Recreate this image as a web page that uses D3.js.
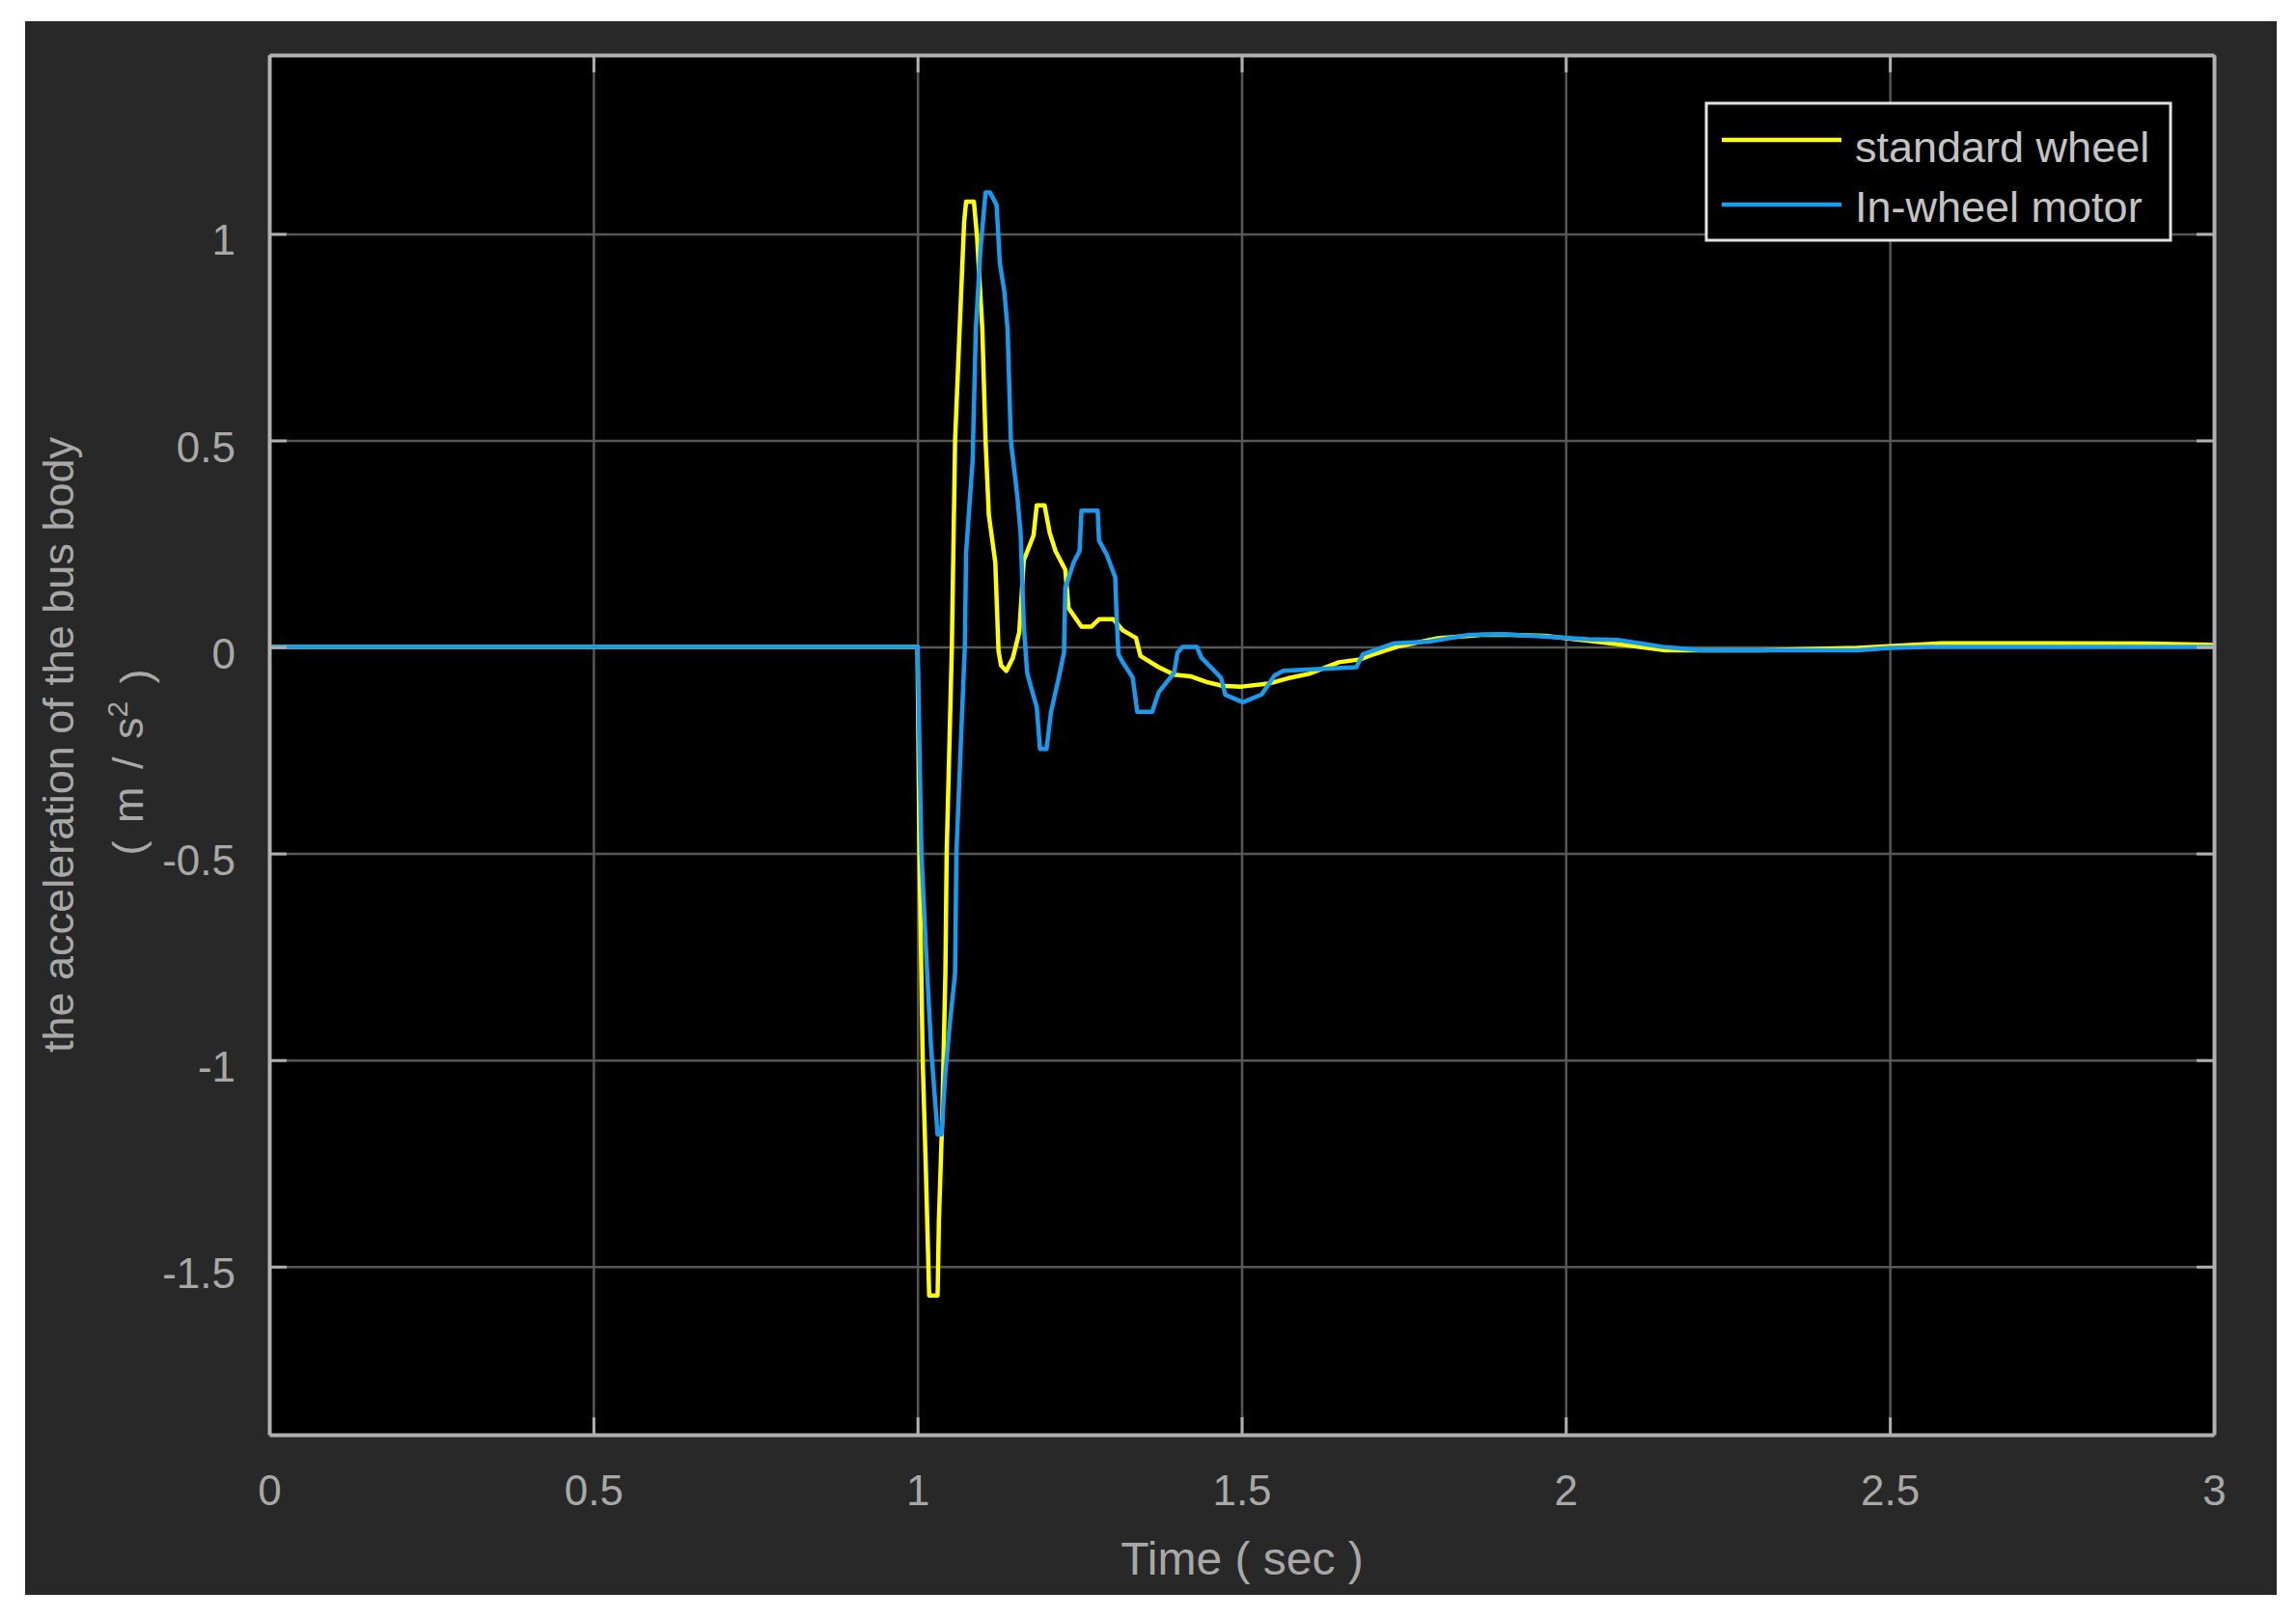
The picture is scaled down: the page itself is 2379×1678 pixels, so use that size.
<!DOCTYPE html>
<html>
<head>
<meta charset="utf-8">
<script src="https://cdn.jsdelivr.net/npm/d3@7"></script>
<style>
  body { margin: 0; background: #ffffff; }
  svg { display: block; }
</style>
</head>
<body>
<div id="chart"></div>
<script>
// series (time in sec, acceleration in m/s^2)
var stdTime = [0, 1.0, 1.003, 1.008, 1.013, 1.017, 1.018, 1.031, 1.033, 1.038,
  1.043, 1.045, 1.053, 1.058, 1.065, 1.072, 1.075, 1.087, 1.092, 1.100,
  1.105, 1.110, 1.120, 1.125, 1.129, 1.137, 1.147, 1.157, 1.164, 1.179,
  1.184, 1.196, 1.204, 1.213, 1.228, 1.233, 1.253, 1.268, 1.280, 1.302,
  1.317, 1.337, 1.344, 1.372, 1.396, 1.421, 1.446, 1.470, 1.500, 1.544,
  1.571, 1.604, 1.650, 1.683, 1.703, 1.743, 1.803, 1.869, 1.902, 1.968,
  2.034, 2.10, 2.154, 2.30, 2.45, 2.58, 2.75, 2.90, 3.0];
var stdAcc = [0, 0, -0.5, -1.0, -1.27, -1.51, -1.57, -1.57, -1.39, -1.15,
  -0.79, -0.5, 0, 0.5, 0.77, 1.03, 1.078, 1.078, 0.99, 0.77,
  0.5, 0.32, 0.205, -0.01, -0.045, -0.058, -0.027, 0.036, 0.21, 0.27,
  0.343, 0.343, 0.276, 0.232, 0.187, 0.094, 0.049, 0.049, 0.067, 0.067,
  0.04, 0.022, -0.022, -0.049, -0.067, -0.071, -0.085, -0.094, -0.096, -0.088,
  -0.076, -0.065, -0.037, -0.03, -0.018, 0.002, 0.021, 0.029, 0.030, 0.027,
  0.015, 0.003, -0.008, -0.008, -0.002, 0.009, 0.009, 0.008, 0.005];

var motorTime = [0, 1.0, 1.001, 1.006, 1.013, 1.021, 1.031, 1.037, 1.043, 1.050,
  1.058, 1.060, 1.068, 1.073, 1.075, 1.085, 1.090, 1.097, 1.105, 1.112,
  1.122, 1.127, 1.134, 1.139, 1.144, 1.154, 1.159, 1.164, 1.169, 1.171,
  1.184, 1.189, 1.199, 1.206, 1.218, 1.226, 1.228, 1.241, 1.250, 1.253,
  1.278, 1.280, 1.292, 1.305, 1.307, 1.310, 1.317, 1.332, 1.339, 1.362,
  1.372, 1.396, 1.401, 1.409, 1.431, 1.438, 1.468, 1.475, 1.502, 1.531,
  1.551, 1.564, 1.677, 1.687, 1.736, 1.789, 1.849, 1.902, 1.968, 2.034,
  2.08, 2.15, 2.21, 2.45, 2.5, 2.56, 3.0];
var motorAcc = [0, 0, -0.07, -0.5, -0.73, -0.97, -1.18, -1.18, -1.03, -0.91,
  -0.79, -0.5, -0.19, 0, 0.23, 0.45, 0.77, 0.96, 1.10, 1.10,
  1.07, 0.93, 0.86, 0.77, 0.5, 0.365, 0.276, 0.053, -0.06, -0.074,
  -0.146, -0.247, -0.247, -0.157, -0.074, -0.014, 0.143, 0.205, 0.232, 0.33,
  0.33, 0.258, 0.223, 0.169, 0.08, -0.018, -0.038, -0.074, -0.157, -0.157,
  -0.11, -0.062, -0.014, 0, 0, -0.026, -0.074, -0.116, -0.134, -0.115,
  -0.069, -0.058, -0.049, -0.018, 0.009, 0.013, 0.029, 0.031, 0.025, 0.019,
  0.017, 0, -0.008, -0.008, -0.002, 0, 0];

var seriesNames = ["standard wheel", "In-wheel motor"];
var seriesColors = ["#ffff00", "#169bf0"];
var xTicks = [0, 0.5, 1, 1.5, 2, 2.5, 3];
var yTicks = [-1.5, -1, -0.5, 0, 0.5, 1];

var W = 2379, H = 1678;
var margin = {left: 279, right: W - 2294, top: 57, bottom: H - 1487};
var width = W - margin.left - margin.right,
    height = H - margin.top - margin.bottom;

var font = "'Liberation Sans', Arial, Helvetica, sans-serif";
var axisColor = "#b0b0b0", gridColor = "#575757", textColor = "#a8a8a8";
var tickLen = 18;

var svg = d3.select("#chart").append("svg")
    .attr("width", W)
    .attr("height", H);

// dark figure background
svg.append("rect")
    .attr("x", 26).attr("y", 22)
    .attr("width", 2359 - 26).attr("height", 1653 - 22)
    .attr("fill", "#282828");

var g = svg.append("g")
    .attr("transform", "translate(" + margin.left + "," + margin.top + ")");

var x = d3.scaleLinear().domain([0, 3]).range([0, width]);
var y = d3.scaleLinear().domain([-1.907, 1.433]).range([height, 0]);

// axes background
g.append("rect")
    .attr("width", width).attr("height", height)
    .attr("fill", "#000000");

// grid
g.append("g")
    .attr("class", "grid")
    .call(d3.axisBottom(x).tickValues(xTicks).tickSize(height).tickFormat(""))
    .call(function(s) { s.select(".domain").remove(); })
    .selectAll("line").attr("stroke", gridColor).attr("stroke-width", 2.5);
g.append("g")
    .attr("class", "grid")
    .call(d3.axisLeft(y).tickValues(yTicks).tickSize(-width).tickFormat(""))
    .call(function(s) { s.select(".domain").remove(); })
    .selectAll("line").attr("stroke", gridColor).attr("stroke-width", 2.5);

// lines
svg.append("clipPath").attr("id", "plotclip")
    .append("rect").attr("width", width).attr("height", height);

var line = d3.line()
    .x(function(d) { return x(d[0]); })
    .y(function(d) { return y(d[1]); });

var series = [
  d3.zip(stdTime, stdAcc),
  d3.zip(motorTime, motorAcc)
];

g.append("g")
    .attr("clip-path", "url(#plotclip)")
    .selectAll("path")
    .data(series)
    .enter()
    .append("path")
    .attr("d", line)
    .attr("fill", "none")
    .attr("stroke", function(d, i) { return seriesColors[i]; })
    .attr("stroke-width", 4.5)
    .attr("stroke-linejoin", "round");

// axes with inward ticks
function styleAxis(sel) {
  sel.select(".domain").attr("stroke", axisColor).attr("stroke-width", 4);
  sel.selectAll(".tick line").attr("stroke", axisColor).attr("stroke-width", 3);
  sel.selectAll("text")
      .attr("fill", textColor)
      .style("font-family", font)
      .style("font-size", "44px");
}

g.append("g")
    .attr("transform", "translate(0," + height + ")")
    .call(d3.axisBottom(x).tickValues(xTicks).tickSize(-tickLen).tickSizeOuter(0)
        .tickPadding(42).tickFormat(function(d) { return String(d); }))
    .call(styleAxis);

g.append("g")
    .call(d3.axisLeft(y).tickValues(yTicks).tickSize(-tickLen).tickSizeOuter(0)
        .tickPadding(35).tickFormat(function(d) { return String(d); }))
    .call(styleAxis)
    .selectAll("text").attr("dy", "0.49em");

g.append("g")
    .call(d3.axisTop(x).tickValues(xTicks).tickSize(-tickLen).tickSizeOuter(0).tickFormat(""))
    .call(styleAxis);

g.append("g")
    .attr("transform", "translate(" + width + ",0)")
    .call(d3.axisRight(y).tickValues(yTicks).tickSize(-tickLen).tickSizeOuter(0).tickFormat(""))
    .call(styleAxis);

// axis labels
svg.append("text")
    .attr("x", 1287).attr("y", 1632)
    .attr("text-anchor", "middle")
    .attr("fill", textColor)
    .style("font-family", font)
    .style("font-size", "48px")
    .text("Time ( sec )");

svg.append("text")
    .attr("transform", "translate(76," + (margin.top + height / 2) + ") rotate(-90)")
    .attr("text-anchor", "middle")
    .attr("fill", textColor)
    .style("font-family", font)
    .style("font-size", "45px")
    .text("the acceleration of the bus body");

var unit = svg.append("text")
    .attr("transform", "translate(148," + (margin.top + height / 2 + 18) + ") rotate(-90)")
    .attr("text-anchor", "middle")
    .attr("fill", textColor)
    .style("font-family", font)
    .style("font-size", "45px")
    .style("word-spacing", "6px");
unit.append("tspan").text("( m / s");
unit.append("tspan").attr("dy", "-0.55em").style("font-size", "30px").text("2");
unit.append("tspan").attr("dy", "0.55em").text(" )");

// legend
var legend = svg.append("g").attr("transform", "translate(1768,107)");
legend.append("rect")
    .attr("width", 2249 - 1768).attr("height", 249 - 107)
    .attr("fill", "#000000")
    .attr("stroke", "#e2e2e2")
    .attr("stroke-width", 3);

var items = legend.selectAll("g.item")
    .data(seriesNames)
    .enter()
    .append("g")
    .attr("class", "item")
    .attr("transform", function(d, i) { return "translate(0," + (38 + i * 67) + ")"; });

items.append("line")
    .attr("x1", 16).attr("x2", 140)
    .attr("stroke", function(d, i) { return seriesColors[i]; })
    .attr("stroke-width", 4.5);

items.append("text")
    .attr("x", 154)
    .attr("y", function(d, i) { return 23 - 5 * i; })
    .attr("fill", "#c4c4c4")
    .style("font-family", font)
    .style("font-size", "45px")
    .text(function(d) { return d; });
</script>
</body>
</html>
